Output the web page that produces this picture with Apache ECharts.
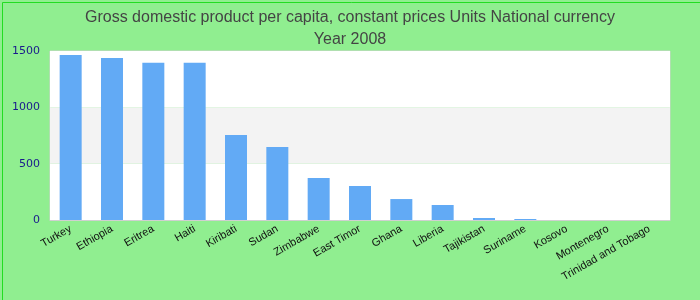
<!DOCTYPE html>
<html><head><meta charset="utf-8">
<script src="https://cdn.jsdelivr.net/npm/echarts@6/dist/echarts.min.js"></script>
<style>
html,body{margin:0;padding:0;background:#90ee90;}
#c{width:700px;height:300px;}
</style></head>
<body><div id="c"></div>
<script>
const categories = ["Turkey","Ethiopia","Eritrea","Haiti","Kiribati","Sudan","Zimbabwe","East Timor","Ghana","Liberia","Tajikistan","Suriname","Kosovo","Montenegro","Trinidad and Tobago"];
const values = [1464, 1438, 1396, 1396, 754, 648, 373, 302, 186, 133, 18, 9, 0, 0, 0];
const yTicks = [0, 500, 1000, 1500];
const titleLines = ["Gross domestic product per capita, constant prices Units National currency", "Year 2008"];

const chart = echarts.init(document.getElementById('c'), null, {renderer:'canvas'});
chart.setOption({
  backgroundColor: '#90ee90',
  animation: false,
  graphic: [{type: 'rect', left: 0, top: 0, shape: {x: 0.5, y: 0.5, width: 699, height: 299}, style: {fill: 'none', stroke: '#22dd22', lineWidth: 1}, silent: true}],
  title: {
    text: titleLines.join('\n'),
    left: 'center', top: 2,
    textStyle: {fontFamily: 'Liberation Sans, Arial, sans-serif', fontSize: 16, fontWeight: 'normal', color: '#444', lineHeight: 22}
  },
  grid: {left: 50, right: 30, top: 51, bottom: 80, show: true, backgroundColor: 'transparent', borderColor: '#d0d0d0', borderWidth: 1},
  xAxis: {
    type: 'category', data: categories,
    axisLine: {show: true, lineStyle: {color: '#d0d0d0'}},
    axisTick: {show: false},
    axisLabel: {rotate: 30, interval: 0, margin: 8, color: '#111', fontSize: 11, fontFamily: 'Liberation Sans, Arial, sans-serif'}
  },
  yAxis: {
    type: 'value', min: yTicks[0], max: yTicks[yTicks.length-1], interval: 500,
    axisLine: {show: false}, axisTick: {show: false},
    splitLine: {show: false},
    splitArea: {show: true, areaStyle: {color: ['#ffffff', '#f3f3f3']}},
    axisLabel: {color: '#1a1a8c', fontSize: 11, fontFamily: 'DejaVu Sans, sans-serif', margin: 10, formatter: v => String(v)}
  },
  series: [{type: 'bar', data: values, barWidth: 22, itemStyle: {color: '#62aaf5'}}]
});
</script></body></html>
